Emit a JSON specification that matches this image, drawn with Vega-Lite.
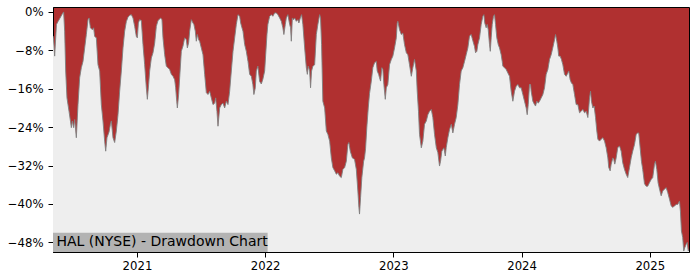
{
"$schema": "https://vega.github.io/schema/vega-lite/v6.json",
"width": 636, "height": 245,
"autosize": {"type": "none"},
"padding": {"left": 53, "top": 7, "right": 11, "bottom": 28},
"background": "white",
"config": {
  "view": {"fill": "#b03030", "stroke": "#000000", "strokeWidth": 1},
  "font": "DejaVu Sans",
  "axis": {"domainColor": "#000000", "tickColor": "#000000", "labelColor": "#000000", "labelFont": "DejaVu Sans", "labelFontSize": 11.7, "tickSize": 5, "grid": false, "domainWidth": 1, "tickWidth": 1, "labelPadding": 4}
},
"data": {"values": [
{"t":2020.345,"dd":-5.0},{"t":2020.350,"dd":-5.8},{"t":2020.358,"dd":-9.2},{"t":2020.372,"dd":-2.6},{"t":2020.384,"dd":-2.0},{"t":2020.397,"dd":-1.4},{"t":2020.418,"dd":-0.4},{"t":2020.428,"dd":0},
{"t":2020.436,"dd":-4.0},{"t":2020.444,"dd":-12.3},{"t":2020.454,"dd":-17.9},{"t":2020.470,"dd":-20.7},{"t":2020.481,"dd":-22.7},{"t":2020.488,"dd":-24.1},{"t":2020.496,"dd":-22.7},{"t":2020.506,"dd":-24.1},{"t":2020.514,"dd":-22.4},{"t":2020.527,"dd":-26.2},{"t":2020.540,"dd":-19.3},{"t":2020.553,"dd":-13.7},{"t":2020.566,"dd":-11.6},{"t":2020.579,"dd":-10.3},{"t":2020.592,"dd":-7.5},{"t":2020.605,"dd":-4.7},{"t":2020.618,"dd":-1.6},{"t":2020.626,"dd":-1.25},{"t":2020.637,"dd":-3.3},{"t":2020.652,"dd":-3.7},{"t":2020.662,"dd":-3.3},{"t":2020.670,"dd":-5.1},{"t":2020.683,"dd":-5.4},{"t":2020.696,"dd":-11.0},{"t":2020.709,"dd":-12.3},{"t":2020.722,"dd":-19.3},{"t":2020.735,"dd":-22.7},{"t":2020.748,"dd":-26.9},{"t":2020.756,"dd":-29.0},{"t":2020.766,"dd":-26.2},{"t":2020.782,"dd":-25.0},{"t":2020.793,"dd":-23.4},{"t":2020.800,"dd":-22.7},{"t":2020.813,"dd":-26.2},{"t":2020.826,"dd":-27.2},{"t":2020.839,"dd":-24.8},{"t":2020.852,"dd":-21.4},{"t":2020.865,"dd":-16.5},{"t":2020.878,"dd":-12.3},{"t":2020.891,"dd":-7.5},{"t":2020.904,"dd":-4.0},{"t":2020.917,"dd":-2.0},{"t":2020.930,"dd":-1.1},{"t":2020.943,"dd":-0.7},{"t":2020.956,"dd":-0.56},{"t":2020.969,"dd":-1.25},{"t":2020.982,"dd":-3.0},{"t":2020.995,"dd":-5.1},
{"t":2021.003,"dd":-5.4},{"t":2021.011,"dd":-2.3},{"t":2021.021,"dd":-1.6},{"t":2021.034,"dd":-1.8},{"t":2021.047,"dd":-6.8},{"t":2021.060,"dd":-11.0},{"t":2021.073,"dd":-15.8},{"t":2021.081,"dd":-18.2},{"t":2021.091,"dd":-15.1},{"t":2021.099,"dd":-12.3},{"t":2021.112,"dd":-9.6},{"t":2021.125,"dd":-8.5},{"t":2021.138,"dd":-6.5},{"t":2021.151,"dd":-3.0},{"t":2021.164,"dd":-1.8},{"t":2021.185,"dd":-1.25},{"t":2021.195,"dd":-1.6},{"t":2021.203,"dd":-5.4},{"t":2021.216,"dd":-8.9},{"t":2021.229,"dd":-11.3},{"t":2021.242,"dd":-11.6},{"t":2021.255,"dd":-12.0},{"t":2021.268,"dd":-13.0},{"t":2021.281,"dd":-13.4},{"t":2021.294,"dd":-14.1},{"t":2021.302,"dd":-15.8},{"t":2021.310,"dd":-18.6},{"t":2021.315,"dd":-20.0},{"t":2021.325,"dd":-17.2},{"t":2021.333,"dd":-13.7},{"t":2021.346,"dd":-8.2},{"t":2021.359,"dd":-7.1},{"t":2021.372,"dd":-5.4},{"t":2021.385,"dd":-5.8},{"t":2021.393,"dd":-7.5},{"t":2021.403,"dd":-6.4},{"t":2021.411,"dd":-4.0},{"t":2021.424,"dd":-1.6},{"t":2021.437,"dd":-2.3},{"t":2021.444,"dd":-2.6},{"t":2021.455,"dd":-4.0},{"t":2021.463,"dd":-6.1},{"t":2021.471,"dd":-4.7},{"t":2021.481,"dd":-5.8},{"t":2021.489,"dd":-6.1},{"t":2021.502,"dd":-7.5},{"t":2021.515,"dd":-8.9},{"t":2021.528,"dd":-13.0},{"t":2021.541,"dd":-16.8},{"t":2021.554,"dd":-17.2},{"t":2021.567,"dd":-16.5},{"t":2021.580,"dd":-17.9},{"t":2021.593,"dd":-19.3},{"t":2021.606,"dd":-19.0},{"t":2021.614,"dd":-17.9},{"t":2021.624,"dd":-20.7},{"t":2021.632,"dd":-23.8},{"t":2021.645,"dd":-20.0},{"t":2021.658,"dd":-19.3},{"t":2021.671,"dd":-19.0},{"t":2021.684,"dd":-20.0},{"t":2021.697,"dd":-18.6},{"t":2021.710,"dd":-19.3},{"t":2021.723,"dd":-16.5},{"t":2021.736,"dd":-12.3},{"t":2021.749,"dd":-8.2},{"t":2021.762,"dd":-5.4},{"t":2021.775,"dd":-2.6},{"t":2021.788,"dd":-0.56},{"t":2021.801,"dd":-0.9},{"t":2021.809,"dd":-2.3},{"t":2021.819,"dd":-3.3},{"t":2021.827,"dd":-4.0},{"t":2021.840,"dd":-6.8},{"t":2021.853,"dd":-8.2},{"t":2021.866,"dd":-10.3},{"t":2021.879,"dd":-13.0},{"t":2021.892,"dd":-13.4},{"t":2021.904,"dd":-15.1},{"t":2021.912,"dd":-17.2},{"t":2021.923,"dd":-15.8},{"t":2021.931,"dd":-12.3},{"t":2021.943,"dd":-11.3},{"t":2021.957,"dd":-14.5},{"t":2021.970,"dd":-15.0},{"t":2021.982,"dd":-14.0},{"t":2021.996,"dd":-12.3},
{"t":2022.004,"dd":-8.9},{"t":2022.014,"dd":-4.7},{"t":2022.021,"dd":-2.6},{"t":2022.035,"dd":-0.9},{"t":2022.048,"dd":-0.56},{"t":2022.060,"dd":-0.9},{"t":2022.074,"dd":-0.2},{"t":2022.087,"dd":-0.2},{"t":2022.099,"dd":-0.56},{"t":2022.113,"dd":-1.25},{"t":2022.126,"dd":-1.95},{"t":2022.138,"dd":-3.3},{"t":2022.146,"dd":-4.7},{"t":2022.157,"dd":-2.6},{"t":2022.165,"dd":-1.25},{"t":2022.177,"dd":-0.56},{"t":2022.191,"dd":-2.6},{"t":2022.198,"dd":-3.3},{"t":2022.204,"dd":-6.1},{"t":2022.212,"dd":-1.25},{"t":2022.222,"dd":-1.6},{"t":2022.230,"dd":-1.25},{"t":2022.243,"dd":-1.95},{"t":2022.255,"dd":-1.6},{"t":2022.263,"dd":-2.3},{"t":2022.274,"dd":-1.25},{"t":2022.284,"dd":-0.56},{"t":2022.294,"dd":-2.6},{"t":2022.308,"dd":-7.5},{"t":2022.321,"dd":-11.6},{"t":2022.329,"dd":-13.0},{"t":2022.336,"dd":-11.3},{"t":2022.347,"dd":-12.3},{"t":2022.354,"dd":-15.8},{"t":2022.362,"dd":-12.3},{"t":2022.372,"dd":-11.3},{"t":2022.386,"dd":-11.0},{"t":2022.399,"dd":-4.7},{"t":2022.411,"dd":-2.6},{"t":2022.425,"dd":-0.56},{"t":2022.432,"dd":-1.25},{"t":2022.440,"dd":-6.8},{"t":2022.450,"dd":-18.6},{"t":2022.464,"dd":-20.0},{"t":2022.477,"dd":-24.8},{"t":2022.489,"dd":-25.5},{"t":2022.503,"dd":-26.9},{"t":2022.516,"dd":-30.4},{"t":2022.528,"dd":-32.4},{"t":2022.542,"dd":-33.1},{"t":2022.555,"dd":-33.8},{"t":2022.567,"dd":-33.5},{"t":2022.581,"dd":-34.2},{"t":2022.594,"dd":-34.5},{"t":2022.606,"dd":-32.8},{"t":2022.620,"dd":-32.4},{"t":2022.633,"dd":-31.1},{"t":2022.645,"dd":-27.6},{"t":2022.653,"dd":-27.2},{"t":2022.664,"dd":-29.0},{"t":2022.680,"dd":-30.4},{"t":2022.697,"dd":-30.7},{"t":2022.711,"dd":-32.8},{"t":2022.723,"dd":-37.3},{"t":2022.731,"dd":-40.7},{"t":2022.736,"dd":-42.1},{"t":2022.744,"dd":-38.7},{"t":2022.754,"dd":-34.5},{"t":2022.768,"dd":-31.1},{"t":2022.775,"dd":-30.4},{"t":2022.783,"dd":-28.5},{"t":2022.793,"dd":-24.0},{"t":2022.804,"dd":-20.0},{"t":2022.814,"dd":-17.0},{"t":2022.828,"dd":-14.4},{"t":2022.840,"dd":-11.6},{"t":2022.853,"dd":-10.6},{"t":2022.867,"dd":-10.3},{"t":2022.874,"dd":-12.3},{"t":2022.885,"dd":-13.0},{"t":2022.892,"dd":-13.7},{"t":2022.900,"dd":-14.4},{"t":2022.910,"dd":-11.6},{"t":2022.918,"dd":-12.0},{"t":2022.926,"dd":-15.1},{"t":2022.937,"dd":-18.2},{"t":2022.945,"dd":-15.8},{"t":2022.957,"dd":-15.1},{"t":2022.970,"dd":-11.0},{"t":2022.984,"dd":-9.9},{"t":2022.996,"dd":-9.2},
{"t":2023.009,"dd":-7.5},{"t":2023.023,"dd":-5.4},{"t":2023.030,"dd":-2.3},{"t":2023.035,"dd":-1.95},{"t":2023.048,"dd":-3.7},{"t":2023.062,"dd":-4.7},{"t":2023.074,"dd":-4.4},{"t":2023.087,"dd":-6.8},{"t":2023.101,"dd":-8.5},{"t":2023.113,"dd":-8.9},{"t":2023.126,"dd":-11.0},{"t":2023.140,"dd":-13.4},{"t":2023.152,"dd":-11.6},{"t":2023.165,"dd":-9.9},{"t":2023.179,"dd":-12.3},{"t":2023.186,"dd":-16.5},{"t":2023.196,"dd":-20.7},{"t":2023.204,"dd":-25.5},{"t":2023.218,"dd":-28.3},{"t":2023.230,"dd":-26.9},{"t":2023.243,"dd":-23.4},{"t":2023.257,"dd":-22.7},{"t":2023.269,"dd":-21.4},{"t":2023.282,"dd":-20.7},{"t":2023.296,"dd":-20.3},{"t":2023.308,"dd":-22.0},{"t":2023.321,"dd":-25.5},{"t":2023.335,"dd":-28.3},{"t":2023.347,"dd":-29.3},{"t":2023.360,"dd":-32.1},{"t":2023.368,"dd":-31.1},{"t":2023.378,"dd":-29.0},{"t":2023.394,"dd":-28.3},{"t":2023.405,"dd":-30.0},{"t":2023.412,"dd":-28.3},{"t":2023.425,"dd":-26.2},{"t":2023.438,"dd":-24.5},{"t":2023.452,"dd":-23.4},{"t":2023.464,"dd":-25.2},{"t":2023.477,"dd":-23.4},{"t":2023.490,"dd":-22.0},{"t":2023.503,"dd":-19.3},{"t":2023.516,"dd":-15.1},{"t":2023.529,"dd":-12.3},{"t":2023.542,"dd":-11.6},{"t":2023.555,"dd":-10.3},{"t":2023.568,"dd":-8.9},{"t":2023.581,"dd":-7.5},{"t":2023.594,"dd":-5.0},{"t":2023.607,"dd":-4.7},{"t":2023.620,"dd":-6.0},{"t":2023.633,"dd":-7.2},{"t":2023.641,"dd":-8.5},{"t":2023.651,"dd":-8.2},{"t":2023.659,"dd":-6.8},{"t":2023.672,"dd":-5.4},{"t":2023.685,"dd":-2.6},{"t":2023.698,"dd":-0.9},{"t":2023.706,"dd":-0.56},{"t":2023.713,"dd":-2.3},{"t":2023.724,"dd":-3.3},{"t":2023.732,"dd":-2.6},{"t":2023.740,"dd":-3.7},{"t":2023.750,"dd":-6.8},{"t":2023.756,"dd":-8.2},{"t":2023.763,"dd":-5.4},{"t":2023.771,"dd":-2.6},{"t":2023.781,"dd":-0.9},{"t":2023.789,"dd":-0.56},{"t":2023.797,"dd":-2.6},{"t":2023.807,"dd":-5.4},{"t":2023.818,"dd":-6.8},{"t":2023.828,"dd":-7.5},{"t":2023.841,"dd":-8.9},{"t":2023.849,"dd":-10.3},{"t":2023.854,"dd":-11.3},{"t":2023.867,"dd":-11.6},{"t":2023.880,"dd":-12.0},{"t":2023.893,"dd":-12.7},{"t":2023.906,"dd":-13.4},{"t":2023.919,"dd":-16.5},{"t":2023.932,"dd":-18.6},{"t":2023.945,"dd":-16.5},{"t":2023.958,"dd":-15.5},{"t":2023.971,"dd":-15.1},{"t":2023.984,"dd":-15.8},{"t":2023.997,"dd":-15.8},
{"t":2024.010,"dd":-17.2},{"t":2024.023,"dd":-18.6},{"t":2024.036,"dd":-20.0},{"t":2024.044,"dd":-21.4},{"t":2024.052,"dd":-19.3},{"t":2024.062,"dd":-15.1},{"t":2024.070,"dd":-15.1},{"t":2024.075,"dd":-16.5},{"t":2024.088,"dd":-18.6},{"t":2024.101,"dd":-19.3},{"t":2024.109,"dd":-19.6},{"t":2024.119,"dd":-18.6},{"t":2024.130,"dd":-19.0},{"t":2024.140,"dd":-18.6},{"t":2024.153,"dd":-17.9},{"t":2024.166,"dd":-17.2},{"t":2024.179,"dd":-15.8},{"t":2024.192,"dd":-13.0},{"t":2024.205,"dd":-12.0},{"t":2024.218,"dd":-9.9},{"t":2024.231,"dd":-8.9},{"t":2024.244,"dd":-7.4},{"t":2024.257,"dd":-5.8},{"t":2024.265,"dd":-4.7},{"t":2024.275,"dd":-6.1},{"t":2024.283,"dd":-7.5},{"t":2024.290,"dd":-9.2},{"t":2024.301,"dd":-9.2},{"t":2024.311,"dd":-9.9},{"t":2024.322,"dd":-11.0},{"t":2024.335,"dd":-13.0},{"t":2024.348,"dd":-13.4},{"t":2024.361,"dd":-12.7},{"t":2024.368,"dd":-12.3},{"t":2024.379,"dd":-14.1},{"t":2024.389,"dd":-14.8},{"t":2024.400,"dd":-15.1},{"t":2024.413,"dd":-17.2},{"t":2024.426,"dd":-19.3},{"t":2024.439,"dd":-19.3},{"t":2024.452,"dd":-21.0},{"t":2024.465,"dd":-20.7},{"t":2024.478,"dd":-20.3},{"t":2024.491,"dd":-21.0},{"t":2024.504,"dd":-20.7},{"t":2024.517,"dd":-22.0},{"t":2024.524,"dd":-20.0},{"t":2024.530,"dd":-17.9},{"t":2024.538,"dd":-16.5},{"t":2024.545,"dd":-18.6},{"t":2024.556,"dd":-20.0},{"t":2024.566,"dd":-19.6},{"t":2024.577,"dd":-22.0},{"t":2024.587,"dd":-24.8},{"t":2024.595,"dd":-26.5},{"t":2024.608,"dd":-26.9},{"t":2024.621,"dd":-26.5},{"t":2024.634,"dd":-26.2},{"t":2024.647,"dd":-26.9},{"t":2024.660,"dd":-28.3},{"t":2024.673,"dd":-30.4},{"t":2024.680,"dd":-32.4},{"t":2024.691,"dd":-33.1},{"t":2024.699,"dd":-31.7},{"t":2024.712,"dd":-30.4},{"t":2024.719,"dd":-30.7},{"t":2024.727,"dd":-31.7},{"t":2024.738,"dd":-30.4},{"t":2024.750,"dd":-28.3},{"t":2024.764,"dd":-27.9},{"t":2024.777,"dd":-29.0},{"t":2024.789,"dd":-31.4},{"t":2024.803,"dd":-32.8},{"t":2024.816,"dd":-33.8},{"t":2024.828,"dd":-34.5},{"t":2024.842,"dd":-32.4},{"t":2024.855,"dd":-30.4},{"t":2024.867,"dd":-29.0},{"t":2024.881,"dd":-27.6},{"t":2024.894,"dd":-25.5},{"t":2024.906,"dd":-25.2},{"t":2024.914,"dd":-25.2},{"t":2024.925,"dd":-28.3},{"t":2024.935,"dd":-31.1},{"t":2024.945,"dd":-32.8},{"t":2024.959,"dd":-35.8},{"t":2024.972,"dd":-36.3},{"t":2024.984,"dd":-36.3},{"t":2024.997,"dd":-35.6},
{"t":2025.011,"dd":-34.9},{"t":2025.023,"dd":-34.5},{"t":2025.037,"dd":-31.7},{"t":2025.044,"dd":-31.1},{"t":2025.055,"dd":-32.8},{"t":2025.065,"dd":-35.6},{"t":2025.076,"dd":-36.9},{"t":2025.089,"dd":-38.3},{"t":2025.101,"dd":-37.3},{"t":2025.115,"dd":-36.9},{"t":2025.128,"dd":-36.6},{"t":2025.140,"dd":-37.6},{"t":2025.154,"dd":-39.0},{"t":2025.167,"dd":-40.4},{"t":2025.179,"dd":-40.7},{"t":2025.193,"dd":-40.4},{"t":2025.206,"dd":-40.1},{"t":2025.218,"dd":-40.1},{"t":2025.232,"dd":-39.4},{"t":2025.239,"dd":-41.5},{"t":2025.247,"dd":-45.6},{"t":2025.257,"dd":-47.0},{"t":2025.265,"dd":-49.8},{"t":2025.273,"dd":-49.1},{"t":2025.284,"dd":-48.4},{"t":2025.292,"dd":-48.0},{"t":2025.300,"dd":-49.8},{"t":2025.306,"dd":-49.5}
]},
"layer": [
  {"mark": {"type": "area", "color": "#eeeeee", "opacity": 1, "clip": true},
   "encoding": {
     "x": {"field": "t", "type": "quantitative", "scale": {"domain": [2020.345, 2025.306], "nice": false, "zero": false},
           "axis": {"values": [2021, 2022, 2023, 2024, 2025], "format": "d", "title": null, "labelPadding": 3}},
     "y": {"field": "dd", "type": "quantitative", "scale": {"domain": [-50, 1.03], "nice": false, "zero": false},
           "axis": {"values": [0, -8, -16, -24, -32, -40, -48], "format": "d", "labelExpr": "datum.label + '%'", "title": null, "labelPadding": 5}},
     "y2": {"datum": -50}
   }},
  {"mark": {"type": "line", "color": "#808080", "strokeWidth": 1, "opacity": 0.9, "clip": true},
   "encoding": {"x": {"field": "t", "type": "quantitative"}, "y": {"field": "dd", "type": "quantitative"}}},
  {"data": {"values": [{"x1": 2020.345, "x2": 2022.019, "y1": -50, "y2": -46.0}]},
   "mark": {"type": "rect", "color": "#b3b3b3", "opacity": 1},
   "encoding": {"x": {"field": "x1", "type": "quantitative"}, "x2": {"field": "x2"}, "y": {"field": "y1", "type": "quantitative"}, "y2": {"field": "y2"}}},
  {"data": {"values": [{"x": 2020.372, "y": -48.0, "label": "HAL (NYSE) - Drawdown Chart"}]},
   "mark": {"type": "text", "align": "left", "baseline": "middle", "fontSize": 14, "font": "DejaVu Sans", "color": "#000000"},
   "encoding": {"x": {"field": "x", "type": "quantitative"}, "y": {"field": "y", "type": "quantitative"}, "text": {"field": "label"}}}
]
}
